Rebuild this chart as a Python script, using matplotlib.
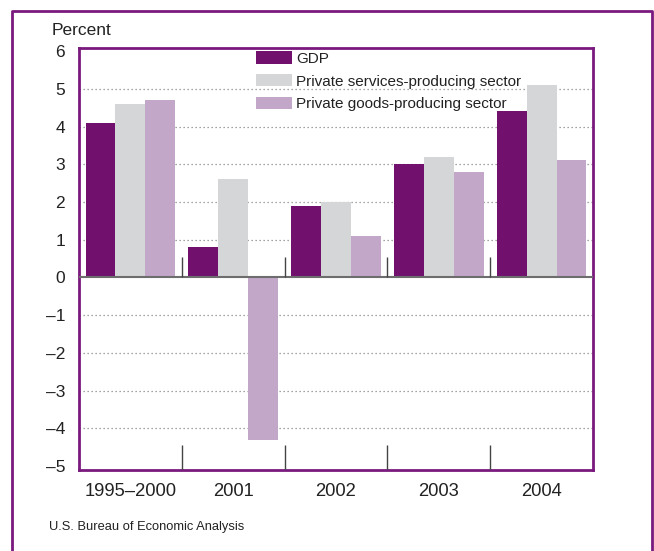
import numpy as np
import matplotlib
matplotlib.use('Agg')
import matplotlib.pyplot as plt
from matplotlib.lines import Line2D

plt.rcParams['font.family'] = ['Liberation Sans', 'DejaVu Sans']

# data (percent change)
periods = ['1995\u20132000', '2001', '2002', '2003', '2004']
gdp = [4.1, 0.8, 1.9, 3.0, 4.4]
services = [4.6, 2.6, 2.0, 3.2, 5.1]
goods = [4.7, -4.3, 1.1, 2.8, 3.1]
series_names = ['GDP', 'Private services-producing sector', 'Private goods-producing sector']
yticks = [-5, -4, -3, -2, -1, 0, 1, 2, 3, 4, 5, 6]

purple = '#7a1a7e'
colors = ['#72106e', '#d5d6d8', '#c3a7c9']

fig = plt.figure(figsize=(6.54, 5.51), dpi=100)
ax = fig.add_axes([79/654, 1-470/551, 514/654, 422/551])

x = np.arange(len(periods))
w = 0.29
for i, (vals, c, name) in enumerate(zip([gdp, services, goods], colors, series_names)):
    ax.bar(x + (i-1)*w, vals, width=w, color=c, label=name, zorder=2)

ax.set_xlim(-0.5, len(periods)-0.5)
ax.set_ylim(-5.1, 6.08)

# dotted gridlines (not at 0 or the edges)
for yv in yticks:
    if yv not in (0, 6, -5):
        ax.axhline(yv, color='#888888', lw=0.9, ls=(0, (1, 2.2)), zorder=1)
ax.axhline(0, color='#6d6d6d', lw=1.5, zorder=3)

# group separator ticks
seps = x[:-1] + 0.5
ax.vlines(seps, 0, 0.55, color='#444444', lw=1, zorder=3)
ax.vlines(seps, -5.1, -4.45, color='#444444', lw=1, zorder=3)

ax.set_yticks(yticks)
ax.set_yticklabels([str(v).replace('-', '\u2013') for v in yticks])
ax.set_xticks(x)
ax.set_xticklabels(periods)
ax.tick_params(axis='both', length=0, labelsize=12.5, colors='#222222')
ax.tick_params(axis='x', labelsize=13.2, pad=9)
ax.tick_params(axis='y', pad=10)

for s in ax.spines.values():
    s.set_color(purple)
    s.set_linewidth(2)

leg = ax.legend(loc='upper left', bbox_to_anchor=(0.344, 0.992), frameon=False,
                borderpad=0, borderaxespad=0, handlelength=2.4, handleheight=0.85,
                handletextpad=0.25, labelspacing=0.55, prop={'size': 11})
leg.set_zorder(5)
for t in leg.get_texts():
    t.set_color('#222222')

fig.text(52/654, 1-35/551, 'Percent', fontsize=12.5, color='#222222', va='baseline')
fig.text(49/654, 1-530/551, 'U.S. Bureau of Economic Analysis', fontsize=9.3,
         color='#222222', va='baseline')

# outer frame (left, top, right)
fx0, fx1, fy1 = 12/654, 652/654, 1-11/551
fig.add_artist(Line2D([fx0, fx0, fx1, fx1], [-0.05, fy1, fy1, -0.05],
                      transform=fig.transFigure, color=purple, lw=2))

fig.savefig('out.png', dpi=100)
